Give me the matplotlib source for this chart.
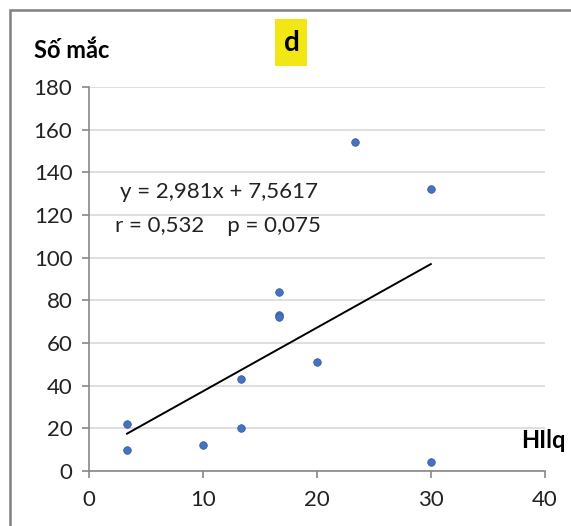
import numpy as np
import matplotlib.pyplot as plt
from matplotlib.patches import Rectangle

plt.rcParams['font.family'] = ['Lato', 'DejaVu Sans']

# data
hilq = [3.33, 3.33, 10, 13.33, 13.33, 16.67, 16.67, 16.67, 20, 23.33, 30, 30]
so_mac = [22, 10, 12, 20, 43, 84, 73, 72, 51, 154, 132, 4]
slope, intercept = 2.981, 7.5617
xticks = [0, 10, 20, 30, 40]
yticks = [0, 20, 40, 60, 80, 100, 120, 140, 160, 180]

W, H = 571, 526
fig = plt.figure(figsize=(W/100, H/100), dpi=100)
fig.patches.append(Rectangle((10/W, -0.01), 1.0, (516+5)/H, transform=fig.transFigure,
                             fill=False, edgecolor='#808080', linewidth=1.8))
# yellow highlight behind the panel letter
fig.patches.append(Rectangle((275/W, 1 - 66/H), 32/W, 47/H, transform=fig.transFigure,
                             facecolor='#f2e614', edgecolor='none'))
ax = fig.add_axes([0.156, 0.1046, 0.798, 0.73])

ax.scatter(hilq, so_mac, s=30, color='#4472c4', edgecolor='#2f5597', linewidth=0.5, zorder=3)
xl = np.array([min(hilq), max(hilq)])
ax.plot(xl, slope*xl + intercept, color='black', linewidth=1.4, zorder=2)

ax.set_xlim(0, 40)
ax.set_ylim(0, 180)
ax.set_xticks(xticks)
ax.set_yticks(yticks)
ax.grid(axis='y', color='#d9d9d9', linewidth=1.2)
ax.set_axisbelow(True)
for s in ['top', 'right']:
    ax.spines[s].set_visible(False)
for s in ['left', 'bottom']:
    ax.spines[s].set_color('#888888')
    ax.spines[s].set_linewidth(1.2)
ax.tick_params(colors='#888888', labelcolor='#222222', labelsize=16, length=5, width=1.2)
ax.tick_params(axis='x', pad=9)
ax.tick_params(axis='y', pad=7)

ax.text(2.7, 128, 'y = 2,981x + 7,5617', fontsize=16, color='#222222')
ax.text(2.3, 112, 'r = 0,532    p = 0,075', fontsize=16, color='#222222')

fig.text(34/W, 1 - 50/H, 'Số mắc', fontsize=17, fontweight='bold', va='center')
fig.text(292/W, 1 - 43/H, 'd', fontsize=20, fontweight='bold', ha='center', va='center')
fig.text(566/W, 1 - 440/H, 'HIlq', fontsize=17, fontweight='bold', ha='right', va='center')

fig.savefig('out.png', dpi=100)
